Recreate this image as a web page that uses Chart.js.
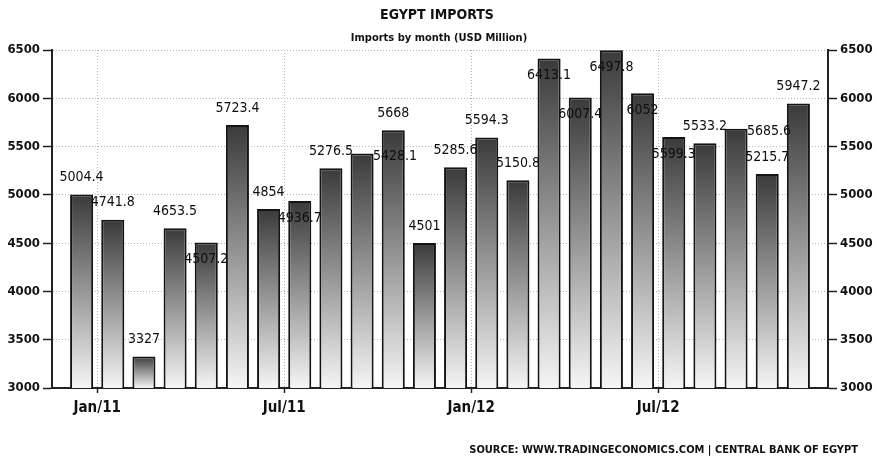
<!DOCTYPE html>
<html>
<head>
<meta charset="utf-8">
<title>Egypt Imports</title>
<script src="https://cdn.jsdelivr.net/npm/chart.js@4.4.0/dist/chart.umd.min.js"></script>
<style>
  html, body { margin: 0; padding: 0; background: #fff; }
  #wrap { width: 877px; height: 461px; position: relative; }
</style>
</head>
<body>
<div id="wrap"><canvas id="importsChart"></canvas></div>
<script>
// monthly imports, USD million (Dec 2010 .. Nov 2012)
const months = [
  'Dec/10', 'Jan/11', 'Feb/11', 'Mar/11', 'Apr/11', 'May/11', 'Jun/11', 'Jul/11',
  'Aug/11', 'Sep/11', 'Oct/11', 'Nov/11', 'Dec/11', 'Jan/12', 'Feb/12', 'Mar/12',
  'Apr/12', 'May/12', 'Jun/12', 'Jul/12', 'Aug/12', 'Sep/12', 'Oct/12', 'Nov/12'
];
const imports = [
  5004.4, 4741.8, 3327, 4653.5, 4507.2, 5723.4, 4854, 4936.7,
  5276.5, 5428.1, 5668, 4501, 5285.6, 5594.3, 5150.8, 6413.1,
  6007.4, 6497.8, 6052, 5599.3, 5533.2, 5685.6, 5215.7, 5947.2
];
const xTickLabels = ['Jan/11', 'Jul/11', 'Jan/12', 'Jul/12'];
const yTicks = [3000, 3500, 4000, 4500, 5000, 5500, 6000, 6500];

// month boundaries sit half a slot before the labelled month
const xTickPos = xTickLabels.map(m => months.indexOf(m) - 0.5);

const condensed = '"DejaVu Sans Condensed", "DejaVu Sans", sans-serif';

// value labels: most sit above the bar, a few go inside or beside it to avoid overlaps
const valueLabels = {
  id: 'valueLabels',
  afterDatasetsDraw(chart, args, opts) {
    const ctx = chart.ctx;
    const bars = chart.getDatasetMeta(0).data;
    ctx.save();
    ctx.font = '14px ' + condensed;
    ctx.fillStyle = '#0e0e0e';
    ctx.textAlign = 'center';
    ctx.textBaseline = 'middle';
    bars.forEach((bar, i) => {
      let x = bar.x, y = bar.y - 17;
      if (opts.below.includes(i)) y = bar.y + 17;
      if (opts.beside.includes(i)) { x = bar.x + 33; y = bar.y + 3; }
      ctx.fillText(String(imports[i]), x, y);
    });
    ctx.restore();
  }
};

const headings = {
  id: 'headings',
  afterDraw(chart) {
    const ctx = chart.ctx;
    ctx.save();
    ctx.fillStyle = '#111';
    ctx.textAlign = 'center';
    ctx.textBaseline = 'middle';
    ctx.font = 'bold 14px ' + condensed;
    ctx.fillText('EGYPT IMPORTS', 437, 15);
    ctx.font = 'bold 11px ' + condensed;
    ctx.fillText('Imports by month (USD Million)', 439, 38);
    ctx.textAlign = 'right';
    ctx.font = 'bold 11px ' + condensed;
    ctx.fillText('SOURCE: WWW.TRADINGECONOMICS.COM | CENTRAL BANK OF EGYPT', 858, 450);
    ctx.restore();
  }
};

function barGradient(c) {
  const chart = c.chart;
  if (!chart.chartArea || !c.parsed) return '#888';
  const yScale = chart.scales.y;
  const top = yScale.getPixelForValue(c.parsed.y);
  const g = chart.ctx.createLinearGradient(0, top, 0, yScale.bottom);
  g.addColorStop(0, '#3a3a3a');
  g.addColorStop(0.5, '#979797');
  g.addColorStop(1, '#f5f5f5');
  return g;
}

function yAxis(position, width) {
  return {
    type: 'linear',
    position: position,
    min: 3000,
    max: 6500,
    afterBuildTicks: s => { s.ticks = yTicks.map(v => ({ value: v })); },
    afterFit: s => { s.width = width; },
    ticks: {
      callback: v => String(v),
      color: '#111',
      font: { family: condensed, size: 13, weight: 'bold' },
      padding: 3
    },
    grid: {
      drawOnChartArea: position === 'left',
      color: '#b4b4b4',
      lineWidth: 1,
      tickColor: '#222',
      tickLength: 9,
      tickWidth: 1.5
    },
    border: { color: '#222', width: 2, dash: [1, 2] }
  };
}

const ctx = document.getElementById('importsChart').getContext('2d');
new Chart(ctx, {
  type: 'bar',
  data: {
    datasets: [{
      label: 'Imports',
      data: imports.map((v, i) => ({ x: i, y: v })),
      backgroundColor: barGradient,
      borderColor: '#141414',
      borderWidth: 2,
      borderSkipped: 'bottom',
      barPercentage: 0.74,
      categoryPercentage: 1
    }]
  },
  options: {
    responsive: true,
    maintainAspectRatio: false,
    animation: false,
    layout: { padding: { top: 50, bottom: 37, left: 0, right: 0 } },
    plugins: {
      legend: { display: false },
      tooltip: { enabled: false },
      valueLabels: { below: [4, 7, 15, 16, 17, 18, 19], beside: [9, 21] }
    },
    scales: {
      x: {
        type: 'linear',
        offset: false,
        min: -0.95,
        max: 23.95,
        afterBuildTicks: s => { s.ticks = xTickPos.map(v => ({ value: v })); },
        afterFit: s => { s.height = 36; },
        ticks: {
          callback: (v, i) => xTickLabels[i],
          color: '#111',
          font: { family: condensed, size: 15, weight: 'bold' },
          padding: 6,
          maxRotation: 0,
          autoSkip: false
        },
        grid: {
          offset: false,
          color: '#b4b4b4',
          lineWidth: 1,
          tickColor: '#222',
          tickLength: 5,
          tickWidth: 1.5
        },
        border: { color: '#222', width: 2, dash: [1, 2] }
      },
      y: yAxis('left', 52),
      y2: yAxis('right', 49)
    }
  },
  plugins: [valueLabels, headings]
});
</script>
</body>
</html>
